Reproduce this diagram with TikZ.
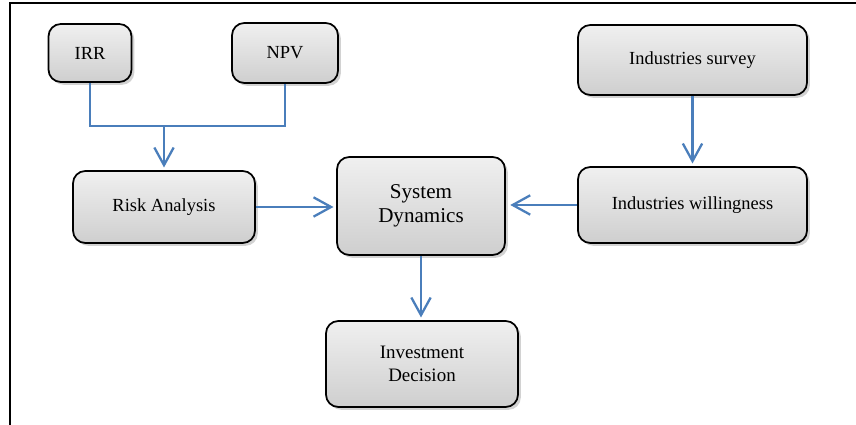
\documentclass[tikz,border=0pt]{standalone}
\usepackage{fontspec}
\setmainfont{Liberation Serif}
\usepackage{xcolor}
\usepackage{tikz}
\usetikzlibrary{arrows.meta,positioning,shadows,calc}

\definecolor{linkblue}{RGB}{74,126,187}

\begin{document}
\begin{tikzpicture}[
	box/.style={draw=black,line width=1pt,rounded corners=7pt,align=center,
		top color=gray!12,bottom color=gray!38,
		drop shadow={shadow xshift=1.6pt,shadow yshift=-1.6pt,fill=gray!70},
		font=\fontsize{10.5}{12.5}\selectfont,inner sep=2pt},
	link/.style={draw=linkblue,line width=1.3pt},
	arr/.style={link,-{Straight Barb[length=10pt,width=11pt,line width=1.3pt]},shorten >=1.5pt}
	]
		\useasboundingbox (0,0) rectangle (17.12,8.5);
		\draw[line width=0.9pt] (0.2,0) -- (0.2,8.44) -- (17.12,8.44);
		% boxes
		\node[box,minimum width=1.66cm,minimum height=1.16cm] (irr) at (1.80,7.44) {IRR};
		\node[box,minimum width=2.12cm,minimum height=1.2cm] (npv) at (5.70,7.44) {NPV};
		\node[box,minimum width=4.58cm,minimum height=1.4cm] (survey) at (13.85,7.30) {Industries survey};
		\node[box,minimum width=4.58cm,minimum height=1.52cm] (willing) at (13.85,4.40) {Industries willingness};
		\node[box,minimum width=3.64cm,minimum height=1.44cm] (risk) at (3.28,4.36) {Risk Analysis};
		\node[box,minimum width=3.36cm,minimum height=1.96cm,font=\fontsize{12}{14}\selectfont] (sd) at (8.42,4.38) {System\\Dynamics};
		\node[box,minimum width=3.84cm,minimum height=1.72cm,font=\fontsize{10.8}{13}\selectfont] (decision) at (8.44,1.22) {Investment\\Decision};
		% connectors
		\coordinate (join) at (3.28,5.98);
		\draw[link] (irr.south) |- (join) -| (npv.south);
		\draw[arr] (join) -- (risk.north);
		\draw[arr] (risk.east) -- (risk.east -| sd.west);
		\draw[arr,shorten >=2.5pt] (willing.west) -- (willing.west -| sd.east);
		\draw[arr] (survey.south) -- (willing.north);
		\draw[arr] (sd.south) -- (sd.south |- decision.north);
\end{tikzpicture}
\end{document}
